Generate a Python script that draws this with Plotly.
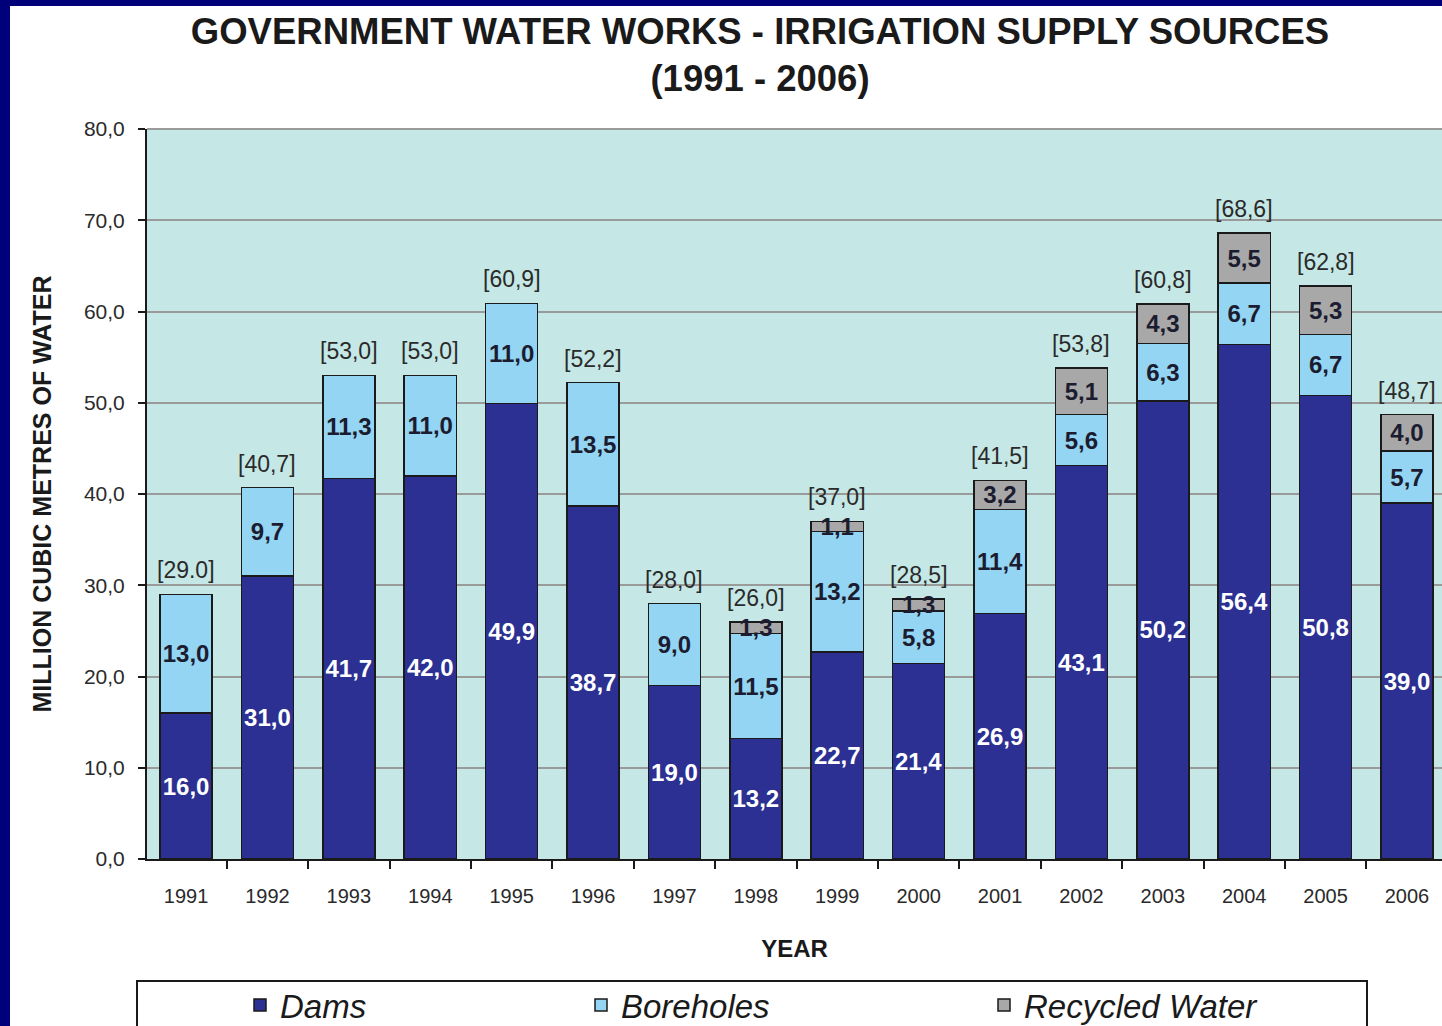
import plotly.graph_objects as go

years = ["1991", "1992", "1993", "1994", "1995", "1996", "1997", "1998",
         "1999", "2000", "2001", "2002", "2003", "2004", "2005", "2006"]
dams = [16.0, 31.0, 41.7, 42.0, 49.9, 38.7, 19.0, 13.2, 22.7, 21.4, 26.9, 43.1, 50.2, 56.4, 50.8, 39.0]
boreholes = [13.0, 9.7, 11.3, 11.0, 11.0, 13.5, 9.0, 11.5, 13.2, 5.8, 11.4, 5.6, 6.3, 6.7, 6.7, 5.7]
recycled = [None, None, None, None, None, None, None, 1.3, 1.1, 1.3, 3.2, 5.1, 4.3, 5.5, 5.3, 4.0]
totals = [29.0, 40.7, 53.0, 53.0, 60.9, 52.2, 28.0, 26.0, 37.0, 28.5, 41.5, 53.8, 60.8, 68.6, 62.8, 48.7]
total_labels = ["[29.0]", "[40,7]", "[53,0]", "[53,0]", "[60,9]", "[52,2]", "[28,0]", "[26,0]",
                "[37,0]", "[28,5]", "[41,5]", "[53,8]", "[60,8]", "[68,6]", "[62,8]", "[48,7]"]
y_ticks = [0, 10, 20, 30, 40, 50, 60, 70, 80]
y_tick_labels = ["0,0", "10,0", "20,0", "30,0", "40,0", "50,0", "60,0", "70,0", "80,0"]


def fmt(v):
    return "" if v is None else f"{v:.1f}".replace(".", ",")


FONT = "Liberation Sans, Arial, sans-serif"

C_DAMS = "#2b3092"
C_BORE = "#93d5f3"
C_REC = "#a8a8a8"
LINE = dict(color="#1a1a1a", width=1.5)
LBL = 24

fig = go.Figure()
fig.add_trace(go.Bar(
    x=years, y=dams, name="Dams", marker=dict(color=C_DAMS, line=LINE),
    text=[fmt(v) for v in dams], textposition="inside", insidetextanchor="middle",
    textangle=0, textfont=dict(family=FONT, size=LBL, color="white", weight="bold"),
    width=0.64, legend="legend"))
fig.add_trace(go.Bar(
    x=years, y=boreholes, name="Boreholes", marker=dict(color=C_BORE, line=LINE),
    text=[fmt(v) for v in boreholes], textposition="inside", insidetextanchor="middle",
    textangle=0, textfont=dict(family=FONT, size=LBL, color="#1c1c30", weight="bold"),
    width=0.64, legend="legend2"))
fig.add_trace(go.Bar(
    x=years, y=recycled, name="Recycled Water", marker=dict(color=C_REC, line=LINE),
    text=[fmt(v) for v in recycled], textposition="inside", insidetextanchor="middle",
    textangle=0, textfont=dict(family=FONT, size=LBL, color="#1c1c30", weight="bold"),
    width=0.64, legend="legend3"))

# total labels above each stacked bar (x given as category index)
for i, (yv, t) in enumerate(zip(totals, total_labels)):
    fig.add_annotation(x=i, y=yv, xref="x", yref="y", text=t, showarrow=False,
                       yanchor="middle", yshift=24,
                       font=dict(family=FONT, size=23, color="#2a2a2a"))

W, H = 1442, 1026
L, R, T, B = 147, 0, 129, 167
pw, ph = W - L - R, H - T - B


def px(xp):
    return (xp - L) / pw


def py(yp):
    return (H - B - yp) / ph


# slide frame strips
fig.add_shape(type="rect", xref="paper", yref="paper", x0=px(0), x1=px(10), y0=py(H), y1=py(0),
              fillcolor="#00007a", line_width=0, layer="above")
fig.add_shape(type="rect", xref="paper", yref="paper", x0=px(0), x1=px(W), y0=py(6), y1=py(0),
              fillcolor="#00007a", line_width=0, layer="above")
# legend frame
fig.add_shape(type="rect", xref="paper", yref="paper", x0=px(137), x1=px(1367), y0=py(1040), y1=py(981),
              fillcolor="white", line=dict(color="#1a1a1a", width=2), layer="below")
# top border of plot area
fig.add_shape(type="line", xref="paper", yref="paper", x0=0, x1=1, y0=1, y1=1,
              line=dict(color="#9a9a9a", width=2), layer="below")

leg_common = dict(orientation="h", yanchor="middle", y=py(1005), xanchor="left",
                  bgcolor="rgba(0,0,0,0)", borderwidth=0,
                  font=dict(family=FONT, size=33, color="#1a1a1a", style="italic"))

fig.update_layout(
    width=W, height=H,
    margin=dict(l=L, r=R, t=T, b=B, autoexpand=False),
    paper_bgcolor="white",
    plot_bgcolor="#c5e7e5",
    barmode="stack",
    uniformtext=dict(minsize=LBL, mode="show"),
    title=dict(text="GOVERNMENT WATER WORKS - IRRIGATION SUPPLY SOURCES<br>(1991 - 2006)",
               x=760 / W, xanchor="center", y=1 - 44 / H, yanchor="middle",
               font=dict(family=FONT, size=36.5, color="#1a1a1a", weight="bold")),
    showlegend=True,
    legend=dict(**leg_common, x=px(240)),
    legend2=dict(**leg_common, x=px(581)),
    legend3=dict(**leg_common, x=px(984)),
    xaxis=dict(type="category", range=[-0.48, 15.43], tickson="boundaries",
               ticks="outside", ticklen=8, tickwidth=2, tickcolor="#1a1a1a",
               showline=True, linecolor="#1a1a1a", linewidth=2, showgrid=False,
               tickfont=dict(family=FONT, size=20, color="#2a2a2a"), ticklabelstandoff=18,
               title=dict(text="YEAR", standoff=34,
                          font=dict(family=FONT, size=24, color="#1a1a1a", weight="bold"))),
    yaxis=dict(range=[0, 80], tickvals=y_ticks, ticktext=y_tick_labels,
               ticks="outside", ticklen=7, tickwidth=2, tickcolor="#1a1a1a",
               showline=True, linecolor="#1a1a1a", linewidth=2,
               showgrid=True, gridcolor="#9a9a9a", gridwidth=2, zeroline=False,
               tickfont=dict(family=FONT, size=21, color="#2a2a2a"), ticklabelstandoff=9,
               title=dict(text="MILLION CUBIC METRES OF WATER", standoff=25,
                          font=dict(family=FONT, size=25, color="#1a1a1a", weight="bold"))),
)

fig.write_html("out.html", config={"displayModeBar": False},
               post_script="document.body.style.margin='0';document.body.style.overflow='hidden';")
